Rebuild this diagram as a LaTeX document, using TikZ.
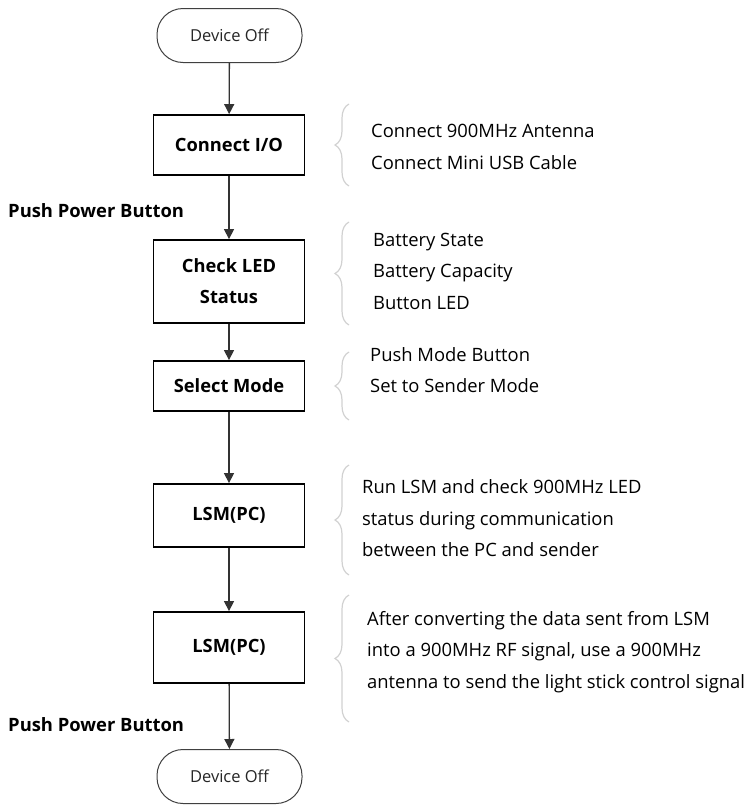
\documentclass[tikz,border=0pt]{standalone}
\usepackage{fontspec}
\setmainfont{Open Sans}
\usetikzlibrary{arrows.meta,decorations.pathreplacing}
\begin{document}
\begin{tikzpicture}[x=1pt,y=-1pt,
  term/.style={draw=black!75,line width=1pt,rounded corners=26pt,minimum width=145pt,minimum height=54pt,inner sep=0pt,font=\fontsize{16.5}{18}\selectfont\color{black!85}},
  stepbox/.style={draw=black,line width=1.8pt,minimum width=151pt,inner sep=0pt,align=center,font=\bfseries\fontsize{18.3}{31}\selectfont},
  flow/.style={draw=black!80,line width=1.3pt,-{Triangle[length=10pt,width=10pt]}},
  desc/.style={anchor=west,align=left,inner sep=0pt,font=\fontsize{18.4}{31.5}\selectfont},
  side/.style={anchor=west,inner sep=0pt,font=\bfseries\fontsize{18.4}{20}\selectfont},
  brc/.style={draw=black!18,line width=1.2pt,decoration={brace,amplitude=14pt,aspect=0.5},decorate}]
\useasboundingbox (0,0) rectangle (750,806);
\node[term] (t1) at (229.5,35.5) {Device Off};
\node[stepbox,minimum height=60pt] (b1) at (229,145) {Connect I/O};
\node[stepbox,minimum height=83pt] (b2) at (229,281.5) {Check LED\\Status};
\node[stepbox,minimum height=50pt] (b3) at (229,386) {Select Mode};
\node[stepbox,minimum height=63pt] (b4) at (229,515.5) {LSM(PC)};
\node[stepbox,minimum height=71pt] (b5) at (229,647.5) {LSM(PC)};
\node[term] (t2) at (229.5,776.5) {Device Off};
\draw[flow] (t1) -- (b1);
\draw[flow] (b1) -- (b2);
\draw[flow] (b2) -- (b3);
\draw[flow] (b3) -- (b4);
\draw[flow] (b4) -- (b5);
\draw[flow] (b5) -- (t2);
\node[side] (p1) at (8,211) {Push Power Button};
\node[side] (p2) at (8,725) {Push Power Button};
\node[desc] (d1) at (371,147) {Connect 900MHz Antenna\\Connect Mini USB Cable};
\node[desc] (d2) at (373,271) {Battery State\\Battery Capacity\\Button LED};
\node[desc] (d3) at (370,370) {Push Mode Button\\Set to Sender Mode};
\node[desc] (d4) at (362,518.5) {Run LSM and check 900MHz LED\\status during communication\\between the PC and sender};
\node[desc] (d5) at (367,652) {After converting the data sent from LSM\\into a 900MHz RF signal, use a 900MHz\\antenna to send the light stick control signal};
\coordinate (a1) at (349,186); \coordinate (a2) at (349,104);
\coordinate (c1) at (349,325); \coordinate (c2) at (349,222);
\coordinate (e1) at (349,420); \coordinate (e2) at (349,352);
\coordinate (f1) at (349,575); \coordinate (f2) at (349,465);
\coordinate (g1) at (349,722); \coordinate (g2) at (349,595);
\draw[brc] (a1) -- (a2);
\draw[brc] (c1) -- (c2);
\draw[brc] (e1) -- (e2);
\draw[brc] (f1) -- (f2);
\draw[brc] (g1) -- (g2);
\end{tikzpicture}
\end{document}
